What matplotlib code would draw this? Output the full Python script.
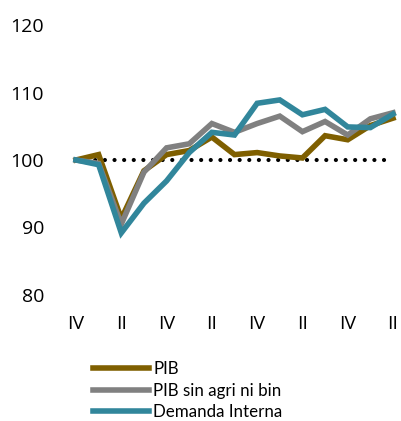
import matplotlib
matplotlib.use('Agg')
import matplotlib.pyplot as plt

# trimestres (etiquetas cada 2)
quarters = ['IV', 'I', 'II', 'III', 'IV', 'I', 'II', 'III', 'IV', 'I', 'II', 'III', 'IV', 'I', 'II']
pib = [100, 100.8, 91.3, 98.4, 100.8, 101.4, 103.4, 100.8, 101.1, 100.6, 100.3, 103.6, 103.0, 105.1, 106.2]
pib_sin = [100, 99.5, 90.5, 98.2, 101.8, 102.4, 105.4, 104.1, 105.4, 106.5, 104.2, 105.7, 103.7, 106.1, 107.0]
demanda = [100, 99.3, 89.2, 93.6, 96.9, 101.1, 104.1, 103.7, 108.4, 108.9, 106.7, 107.5, 104.9, 104.8, 106.8]
yticks = [80, 90, 100, 110, 120]

c_pib = '#7f5f00'
c_sin = '#808080'
c_dem = '#31869b'

fig = plt.figure(figsize=(4.02, 4.21), dpi=100)
ax = fig.add_axes([76 / 402, 1 - 295 / 421, 317 / 402, 270 / 421])

x = list(range(len(quarters)))

# linea de referencia punteada
ax.plot([0, 14], [100, 100], color='black', lw=3, linestyle=(0, (0.01, 2.3)),
        dash_capstyle='round', zorder=1, clip_on=False)

ax.plot(x, pib, color=c_pib, lw=4, label='PIB', zorder=2, clip_on=False, solid_joinstyle='miter')
ax.plot(x, pib_sin, color=c_sin, lw=4, label='PIB sin agri ni bin', zorder=3, clip_on=False, solid_joinstyle='miter')
ax.plot(x, demanda, color=c_dem, lw=4, label='Demanda Interna', zorder=4, clip_on=False, solid_joinstyle='miter')

ax.set_xlim(0, 14)
ax.set_ylim(80, 120)
ax.set_yticks(yticks)
ax.set_xticks(x[::2])
ax.set_xticklabels(quarters[::2])
ax.tick_params(length=0, labelsize=14)
ax.tick_params(axis='y', pad=23)
ax.tick_params(axis='x', pad=14.5)
for lab in ax.get_xticklabels() + ax.get_yticklabels():
    lab.set_family('Open Sans')
for s in ax.spines.values():
    s.set_visible(False)

fig.legend(loc='upper left', bbox_to_anchor=(93 / 402, 1 - 361 / 421), frameon=False,
           borderaxespad=0, borderpad=0, handlelength=3.3, handletextpad=0.25,
           labelspacing=0.33, prop={'family': 'Lato', 'size': 12.2})

fig.savefig('out.png', dpi=100)
